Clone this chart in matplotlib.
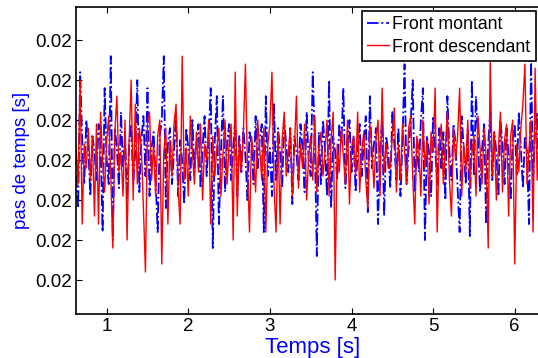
import numpy as np
import matplotlib
matplotlib.use("Agg")
import matplotlib.pyplot as plt
from matplotlib.ticker import FixedLocator, FormatStrFormatter

plt.rcParams['font.family'] = ['Liberation Sans', 'DejaVu Sans']

t0 = 0.625
dt = 0.025
base = 0.02
unit = 1e-5

# deviations (in units of 1e-5 s)
front_montant = [
    -0.4, -1.2, 2.2, 0.5, -0.6, 1.0, 0.3, -0.9, 0.6, 0.2, -0.5, 0.9, 0.4, -1.8, 1.8, 0.0, -0.6, 2.6, -2.0, 0.8,
    0.3, -0.7, 1.2, -0.2, 0.6, -1.0, 0.4, 0.9, -0.6, 0.2, 2.0, -0.8, 0.5, 1.1, -0.4, 1.8, -0.9, 0.3, 0.7, -0.5,
    -1.8, 0.6, 1.0, 2.6, -1.2, 0.4, 0.8, -0.6, 0.2, 1.2, -0.9, 0.5, 0.0, -1.1, 0.8, 0.3, -0.5, 1.0, -0.2, 0.4,
    0.9, -0.7, 0.3, 1.1, -0.4, 0.6, 1.8, -2.2, 0.5, 1.6, -1.6, 0.2, 1.6, -0.8, 0.4, 0.9, -0.5, 0.3, 1.0, -0.9,
    0.6, -0.3, 0.8, 0.1, -1.0, 0.7, 0.4, -0.6, 1.1, -0.2, 0.5, 0.9, -1.8, 1.6, -0.4, 0.3, -0.9, 1.4, -0.5, 0.8,
    0.2, -0.7, 1.0, 0.4, -0.3, 0.8, -1.1, 0.6, 0.2, -0.5, 0.9, 0.3, -0.8, 1.2, 0.0, -0.4, 2.2, 0.5, -2.4, 0.7,
    -0.6, 1.0, 0.3, -0.9, 2.0, -1.2, 0.6, 0.2, -0.5, 0.9, 0.4, 1.8, -0.7, 0.3, 1.0, -0.3, 0.6, -0.8, 0.2, 0.9,
    -0.4, 0.5, 1.1, -1.3, 1.6, -0.2, 0.4, 0.8, -1.6, 0.3, 1.0, -1.4, 0.6, 0.2, -0.7, 1.2, 0.4, -0.5, 0.8, -0.9,
    0.5, 2.4, -0.6, 0.3, 0.9, 2.0, -0.8, 0.4, -0.3, 1.0, 1.8, -2.0, 0.6, 0.2, -0.9, 1.1, 0.3, -0.6, 0.8, -0.2,
    0.7, -1.0, 1.6, 0.2, -0.5, 0.9, 0.4, -0.7, -1.8, 1.1, 0.3, -0.6, 0.8, -1.9, 2.0, -0.4, 1.6, 0.5, -0.8, 0.3,
    0.9, -1.6, 0.4, 1.2, -0.5, 0.7, 0.2, -0.9, 1.0, 0.4, -0.6, 0.8, 0.1, -1.0, 0.5, 0.9, -0.4, 1.2, 0.3, -0.7,
    0.6, 0.2, -1.6, 2.5, -0.5, 0.8, 1.2, -0.9, 0.4, 1.0, -0.3, 0.6,
]

front_descendant = [
    0.3, -0.6, 2.0, -1.6, 0.4, -0.2, 0.8, -0.5, 0.6, -1.4, 0.9, -1.6, 1.2, 0.0, -0.8, 0.5, 1.1, -0.4, -2.2, 0.7,
    1.6, -0.3, 0.2, -0.9, 1.0, -2.0, 0.5, 2.0, -1.0, 1.4, -0.6, 0.8, 0.3, -1.2, -2.8, 0.9, 1.2, -0.5, 0.4, -0.9,
    0.6, 1.0, -2.6, 0.2, 0.8, -1.6, 0.5, -0.4, 0.9, 1.4, -0.7, -1.6, 2.6, -0.5, 0.3, -0.9, 1.1, 0.2, -0.6, 0.7,
    -0.3, 0.9, -1.0, 0.4, 0.0, 1.0, -1.6, 0.6, -0.4, 0.3, 0.8, -0.9, 0.2, 1.0, -0.6, 0.4, 0.9, -2.0, 2.2, -1.4,
    0.5, -0.3, 0.7, 2.4, -0.2, -1.8, 0.6, 0.1, -0.8, 1.0, 0.3, -0.5, 0.8, -1.8, 0.4, 0.9, 2.2, -0.6, -1.8, 0.7,
    -1.6, 0.5, 1.2, -0.4, 0.2, 0.8, -0.9, 0.3, 1.6, -0.7, 0.4, -0.2, 0.9, -1.0, 0.1, 0.6, -0.5, 1.1, -0.8, 0.3,
    0.7, -0.4, 0.2, 1.0, -0.9, 0.5, 1.2, -3.0, 0.4, -0.3, 0.8, 0.1, -0.6, 1.0, -1.1, 0.3, 0.6, -0.4, 1.2, -0.8,
    0.2, 0.7, -0.5, -1.2, 0.9, 0.3, -0.7, 0.5, 1.0, -0.9, 1.8, -0.3, 0.4, -0.2, -0.2, 0.6, 1.3, -0.8, 0.4, -0.5,
    0.9, 0.2, -0.6, 0.8, 1.1, -0.4, -1.6, 0.6, 0.3, -0.9, 1.0, -0.2, 0.5, -1.1, 0.7, 0.2, 1.8, -1.8, 0.4, 0.9,
    -0.6, 0.3, 1.2, -0.5, -1.4, 0.8, 0.0, 0.6, 1.8, -0.9, 0.4, -0.3, 1.0, -0.7, 0.2, 0.6, -0.9, 1.1, 0.3, -0.6,
    0.8, 0.1, -2.2, 2.5, -0.4, 0.7, -1.0, 0.3, 1.2, -0.8, 0.5, 0.9, -1.4, 0.6, 1.0, -2.6, 0.4, -0.3, 0.8, 1.4,
    2.4, -0.6, 0.3, 1.0, -1.8, 2.3, -0.5, 0.6, -1.0, 0.9, 0.2, 0.7,
]

labels = ["Front montant", "Front descendant"]
x_ticks = [1, 2, 3, 4, 5, 6]
y_tick_units = [-3, -2, -1, 0, 1, 2, 3]

fm = base + unit * np.array(front_montant)
fd = base + unit * np.array(front_descendant)
t_m = t0 + dt * np.arange(len(fm))
t_d = t0 + dt * np.arange(len(fd))

fig = plt.figure(figsize=(5.38, 3.58), dpi=100)
ax = fig.add_axes([76/538, 44/358, 473/538, 307/358])

ax.plot(t_m, fm, color='#0000ff', linestyle='-.', lw=1.3, label=labels[0])
ax.plot(t_d, fd, color='#ff0000', linestyle='-', lw=1.0, label=labels[1])

ax.set_xlim(0.624, 6.42)
ax.set_ylim(base - 3.85 * unit, base + 3.83 * unit)
ax.xaxis.set_major_locator(FixedLocator(x_ticks))
ax.yaxis.set_major_locator(FixedLocator([base + u * unit for u in y_tick_units]))
ax.yaxis.set_major_formatter(FormatStrFormatter('%.2f'))
ax.tick_params(direction='in', top=True, right=True, length=4, width=0.8,
               labelsize=13.5, pad=3)
for s in ax.spines.values():
    s.set_linewidth(1.2)

ax.set_xlabel('Temps [s]', color='#0000ff', fontsize=16, labelpad=1)
ax.set_ylabel('pas de temps [s]', color='#0000ff', fontsize=13.5, labelpad=3.5)

leg = ax.legend(loc='upper left', bbox_to_anchor=(362/538, 347/358),
                bbox_transform=fig.transFigure, borderaxespad=0,
                fontsize=12.8, fancybox=False, framealpha=1, edgecolor='black',
                handlelength=1.2, handletextpad=0.2, borderpad=0.3,
                labelspacing=0.3)
leg.get_frame().set_linewidth(1.2)

fig.savefig('out.png', dpi=100)
